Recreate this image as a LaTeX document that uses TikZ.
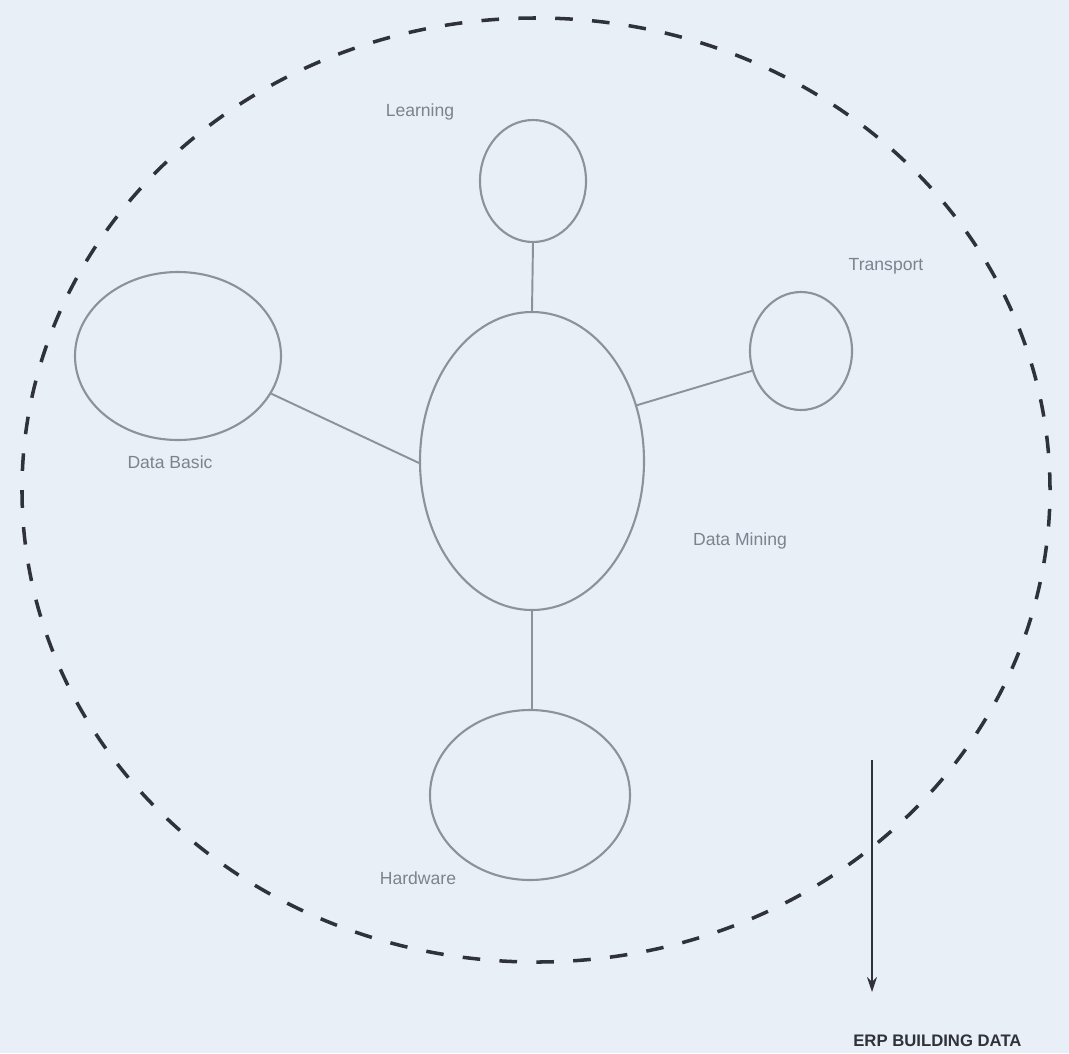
\documentclass[tikz,border=0pt]{standalone}
\usepackage{fontspec}
\setmainfont{Liberation Sans}
\usepackage{xcolor}
\definecolor{paper}{HTML}{E9EFF7}
\definecolor{ringgray}{HTML}{8C929C}
\definecolor{labelgray}{HTML}{7D838D}
\definecolor{dashgray}{HTML}{2F3238}
\usetikzlibrary{positioning,arrows.meta,shapes.geometric}

\begin{document}
\begin{tikzpicture}[x=0.2mm, y=-0.2mm,
    blob/.style={draw=ringgray, ellipse, line width=1.2pt, inner sep=0pt},
    link/.style={draw=ringgray, line width=1.1pt},
    lbl/.style={font=\fontsize{10}{12}\selectfont, text=labelgray, inner sep=1pt},
    arr/.style={-{Stealth[length=3mm,width=2mm]}, line width=1.2pt, draw=dashgray}]
  \fill[paper] (0,0) rectangle (1069,1053);
  \useasboundingbox (0,0) rectangle (1069,1053);

  \node[ellipse, draw=dashgray, dash pattern=on 10pt off 11pt, line width=2pt,
        minimum width=205.6mm, minimum height=188.8mm, inner sep=0pt] (outer) at (536,490) {};

  \node[blob, minimum width=44.8mm, minimum height=59.6mm] (mining) at (532,461) {};
  \node[blob, minimum width=21.2mm, minimum height=24.4mm] (learn)  at (533,181) {};
  \node[blob, minimum width=20.4mm, minimum height=23.6mm] (trans)  at (801,351) {};
  \node[blob, minimum width=41.2mm, minimum height=33.6mm] (base)   at (178,356) {};
  \node[blob, minimum width=40mm,   minimum height=34mm]   (hard)   at (530,795) {};

  \draw[link] (learn.south) -- (mining.north);
  \draw[link] (mining.28) -- (trans.202);
  \draw[link] (base.338) -- (mining.181);
  \draw[link] (mining.south) -- (mining.south |- hard.north);

  \node[lbl] (learnlbl)  at (420,112) {Learning};
  \node[lbl] (translbl)  at (886,266) {Transport};
  \node[lbl] (baselbl)   at (170,462) {Data Basic};
  \node[lbl] (mininglbl) at (740,541) {Data Mining};
  \node[lbl] (hardlbl)   at (418,878) {Hardware};

  \coordinate (atop) at (872,760);
  \coordinate (abot) at (872,992);
  \draw[arr] (atop) -- (abot);
  \node[font=\bfseries\fontsize{9.5}{11}\selectfont, text=dashgray, anchor=west, inner sep=0pt]
    (caption) at (853,1041) {ERP BUILDING DATA};
\end{tikzpicture}
\end{document}
